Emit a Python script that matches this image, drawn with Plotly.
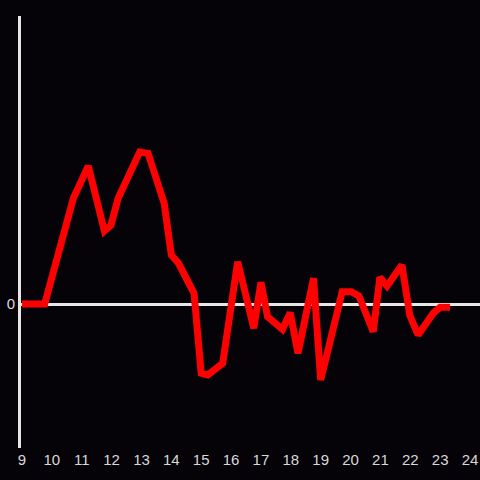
import plotly.graph_objects as go

x_vals = [9.0, 9.76, 10.72, 11.0, 11.22, 11.76, 11.98, 12.22, 12.94, 13.22, 13.76, 14.0, 14.24,
          14.76, 15.0, 15.22, 15.72, 16.22, 16.76, 17.0, 17.22, 17.72, 17.98, 18.24, 18.76, 19.0,
          19.72, 20.02, 20.28, 20.76, 20.98, 21.22, 21.72, 21.98, 22.26, 22.78, 23.0, 23.33]
y_vals = [0, 0, 105.7, 122, 138, 73, 79, 105.7, 152, 150.7, 100.7, 49, 40.7,
          10.7, -69.3, -71, -59.3, 42.3, -24.3, 21.7, -12.7, -25.3, -8.7, -49.3, 25.7, -76,
          12.3, 12.3, 8, -27.7, 26.7, 18, 39, -11, -31, -8.7, -3.3, -3.3]
x_ticks = list(range(9, 25))

fig = go.Figure()
fig.add_trace(go.Scatter(x=x_vals, y=y_vals, mode="lines",
                         line=dict(color="#ff0000", width=7), hoverinfo="skip"))

fig.update_layout(
    width=480, height=480,
    margin=dict(l=21, r=0, t=16, b=32, autoexpand=False),
    paper_bgcolor="#050308", plot_bgcolor="#050308",
    showlegend=False,
    font=dict(family="Liberation Sans, Arial, sans-serif", size=15, color="#d8d8d8"),
    xaxis=dict(range=[8.967, 24.333], tickvals=x_ticks, ticktext=[str(t) for t in x_ticks],
               showgrid=False, zeroline=False, showline=False, ticks="", ticklen=0,
               ticklabelstandoff=1, automargin=False),
    yaxis=dict(range=[-144, 288], tickvals=[0], ticktext=["0"], showgrid=False,
               zeroline=True, zerolinecolor="#e6e6e6", zerolinewidth=3,
               showline=True, linecolor="#e6e6e6", linewidth=3, ticks="",
               ticklabelstandoff=0, automargin=False),
)

fig.write_html("out.html", config={"displayModeBar": False},
               post_script="document.body.style.margin='0';document.body.style.background='#050308';")
